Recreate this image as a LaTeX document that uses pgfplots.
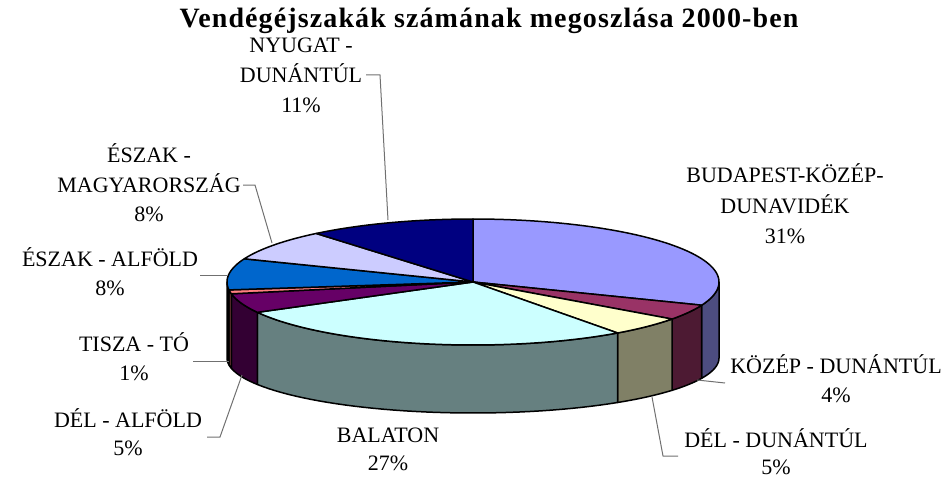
\documentclass[border=0pt]{standalone}
\usepackage{pgfplots}
\pgfplotsset{compat=1.18}
\usepgfplotslibrary{fillbetween}
\usepackage{fontspec}
\setmainfont{Liberation Serif}

% top colours
\definecolor{cBud}{HTML}{9999FF}
\definecolor{cKoz}{HTML}{993366}
\definecolor{cDelD}{HTML}{FFFFCC}
\definecolor{cBal}{HTML}{CCFFFF}
\definecolor{cDelA}{HTML}{660066}
\definecolor{cTis}{HTML}{FF8080}
\definecolor{cEszA}{HTML}{0066CC}
\definecolor{cEszM}{HTML}{CCCCFF}
\definecolor{cNyD}{HTML}{000080}
% side colours
\definecolor{sBud}{HTML}{4D4D80}
\definecolor{sKoz}{HTML}{4D1A33}
\definecolor{sDelD}{HTML}{808066}
\definecolor{sBal}{HTML}{668080}
\definecolor{sDelA}{HTML}{330033}
\definecolor{sTis}{HTML}{804040}
\definecolor{sEszA}{HTML}{003366}
\definecolor{leader}{HTML}{707070}

% Shares (%): Budapest 31, Kozep-Dunantul 4, Del-Dunantul 5, Balaton 27,
% Del-Alfold 5, Tisza-to 1, Eszak-Alfold 8, Eszak-Magyarorszag 8, Nyugat-Dunantul 11
% cumulative: 0 31 35 40 67 72 73 81 89 100

% #1 start (cum. %), #2 end (cum. %), #3 colour
\newcommand{\topsector}[3]{%
  \addplot[fill=#3, draw=black, line width=1.5pt, line join=round,
    domain=90-3.6*#2:90-3.6*#1, samples=60, variable=\t]
    ({473+246*cos(\t)},{282-63*sin(\t)}) -- (473,282) -- cycle;
}
% #1 start (cum. %), #2 end (cum. %), #3 colour, #4 id
\newcommand{\wall}[4]{%
  \addplot[draw=none, name path=t#4, domain=90-3.6*#2:90-3.6*#1, samples=40, variable=\t]
    ({473+246*cos(\t)},{282-63*sin(\t)});
  \addplot[draw=none, name path=b#4, domain=90-3.6*#2:90-3.6*#1, samples=40, variable=\t]
    ({473+246*cos(\t)},{358-55*sin(\t)});
  \addplot[fill=#3, draw=black, line width=1.5pt, line join=round] fill between[of=t#4 and b#4];
}
\newcommand{\lab}[3]{\node[anchor=base, font=\fontsize{22}{26}\selectfont, inner sep=0pt] at (axis cs:#1,#2) {#3};}

\begin{document}
\begin{tikzpicture}
\begin{axis}[
  width=949pt, height=480pt, scale only axis,
  xmin=0, xmax=949, ymin=0, ymax=480, y dir=reverse,
  hide axis, clip=false]

% side walls (front half)
\wall{25}{31}{sBud}{a}
\wall{31}{35}{sKoz}{b}
\wall{35}{40}{sDelD}{c}
\wall{40}{67}{sBal}{d}
\wall{67}{72}{sDelA}{e}
\wall{72}{73}{sTis}{f}
\wall{73}{75}{sEszA}{g}

% top faces
\topsector{0}{31}{cBud}
\topsector{31}{35}{cKoz}
\topsector{35}{40}{cDelD}
\topsector{40}{67}{cBal}
\topsector{67}{72}{cDelA}
\topsector{72}{73}{cTis}
\topsector{73}{81}{cEszA}
\topsector{81}{89}{cEszM}
\topsector{89}{100}{cNyD}

% leader lines
\addplot[leader, line width=1pt] coordinates {(366,75) (380,75) (388,220)};
\addplot[leader, line width=1pt] coordinates {(243,185) (255,185) (272,243)};
\addplot[leader, line width=1pt] coordinates {(200,275) (227,275)};
\addplot[leader, line width=1pt] coordinates {(193,361) (229,361)};
\addplot[leader, line width=1pt] coordinates {(207,437) (220,437) (242,375)};
\addplot[leader, line width=1pt] coordinates {(725,383) (697,380)};
\addplot[leader, line width=1pt] coordinates {(678,456) (663,456) (652,397)};

% title
\node[anchor=base, font=\bfseries\fontsize{28}{34}\selectfont\addfontfeature{LetterSpace=4}, inner sep=0pt] at (axis cs:489,28)
  {Vendégéjszakák számának megoszlása 2000-ben};

% labels
\lab{301}{53}{NYUGAT -}
\lab{301}{83}{DUNÁNTÚL}
\lab{301}{113}{11\%}
\lab{149}{162}{ÉSZAK -}
\lab{149}{192}{MAGYARORSZÁG}
\lab{149}{221}{8\%}
\lab{785}{182}{BUDAPEST-KÖZÉP-}
\lab{785}{213}{DUNAVIDÉK}
\lab{785}{243}{31\%}
\lab{110}{266}{ÉSZAK - ALFÖLD}
\lab{110}{295}{8\%}
\lab{134}{351}{TISZA - TÓ}
\lab{134}{380}{1\%}
\lab{128}{427}{DÉL - ALFÖLD}
\lab{128}{455}{5\%}
\lab{388}{442}{BALATON}
\lab{388}{470}{27\%}
\lab{836}{373}{KÖZÉP - DUNÁNTÚL}
\lab{836}{402}{4\%}
\lab{776}{447}{DÉL - DUNÁNTÚL}
\lab{776}{474}{5\%}
\end{axis}
\pgfresetboundingbox
\path[use as bounding box] (current axis.south west) rectangle (current axis.north east);
\end{tikzpicture}
\end{document}
